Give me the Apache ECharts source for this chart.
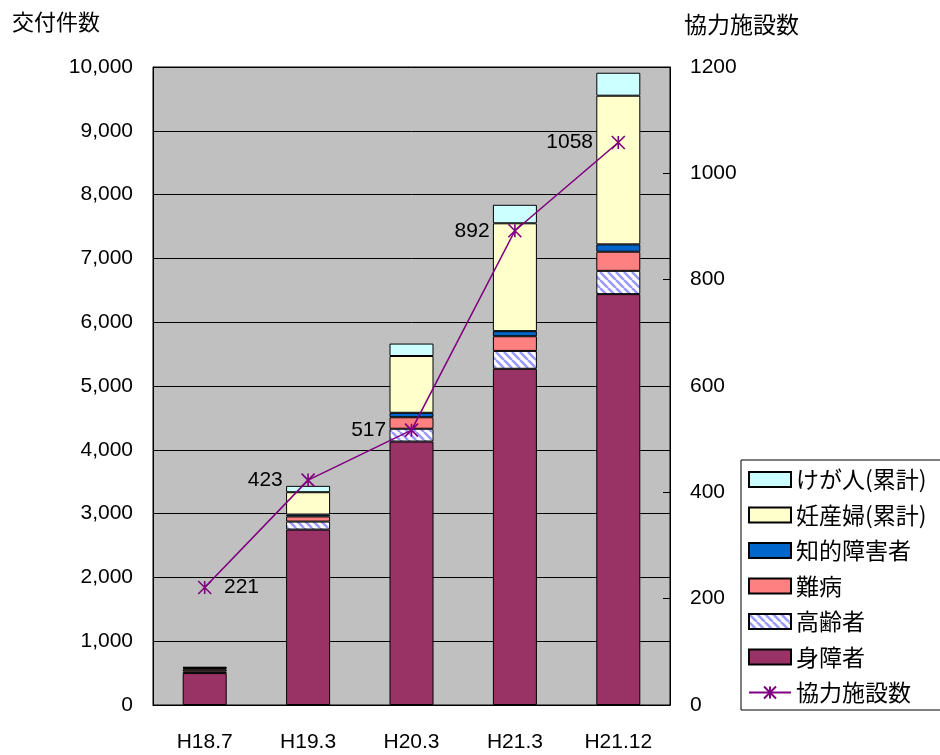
<!DOCTYPE html>
<html><head><meta charset="utf-8">
<script src="https://cdn.jsdelivr.net/npm/echarts@6/dist/echarts.min.js"></script>
<style>html,body{margin:0;padding:0;background:#fff}#c{width:940px;height:755px}</style>
</head><body><div id="c"></div>
<script>
const categories = ['H18.7','H19.3','H20.3','H21.3','H21.12'];
const shinsho   = [500, 2750, 4130, 5270, 6440];   // 身障者
const koreisha  = [25, 125, 200, 280, 365];        // 高齢者
const nanbyo    = [30, 80, 180, 230, 300];         // 難病
const chiteki   = [20, 30, 70, 80, 115];           // 知的障害者
const ninsanpu  = [10, 350, 890, 1690, 2330];      // 妊産婦(累計)
const keganin   = [10, 100, 195, 290, 360];        // けが人(累計)
const facilities = [221, 423, 517, 892, 1058];     // 協力施設数
const leftTicks = [0, 10000, 1000];
const rightTicks = [0, 1200, 200];

function hatch(){
  const s = 8, c = document.createElement('canvas');
  c.width = s; c.height = s;
  const g = c.getContext('2d');
  g.fillStyle = '#fff'; g.fillRect(0,0,s,s);
  g.strokeStyle = '#9999FF'; g.lineWidth = 2.6;
  for (const o of [-s, 0, s]) { g.beginPath(); g.moveTo(o, 0); g.lineTo(o + s, s); g.stroke(); }
  return c;
}
const numFont = 'Liberation Sans, Arial, sans-serif';
const jpFont = '"Noto Sans CJK JP", sans-serif';
const fmt = v => String(v).replace(/\B(?=(\d{3})+(?!\d))/g, ',');
const barBase = { type:'bar', stack:'total', barWidth:44, yAxisIndex:0 };
const border = { borderColor:'#000', borderWidth:1 };
const asterisk = 'path://M0,0L10,10M10,0L0,10M5,0L5,10';

const chart = echarts.init(document.getElementById('c'), null, {renderer:'canvas'});
chart.setOption({
  animation:false,
  textStyle:{fontFamily:jpFont},
  grid:{left:153, right:270, top:67, bottom:50, show:true, backgroundColor:'#C0C0C0', borderColor:'#000', borderWidth:1},
  graphic:[
    {type:'text', left:12, top:11, style:{text:'交付件数', font:'22px "Noto Sans CJK JP"', fill:'#000'}},
    {type:'text', left:684, top:13, style:{text:'協力施設数', font:'23px "Noto Sans CJK JP"', fill:'#000'}}
  ],
  legend:{
    orient:'vertical', left:741, top:460, width:199,
    backgroundColor:'#fff', borderColor:'#000', borderWidth:1,
    padding:[8,20,6,7], itemWidth:42, itemHeight:15, itemGap:12.5,
    textStyle:{fontFamily:jpFont, fontSize:23, color:'#000'},
    data:[
      {name:'けが人(累計)', icon:'rect'},
      {name:'妊産婦(累計)', icon:'rect'},
      {name:'知的障害者', icon:'rect'},
      {name:'難病', icon:'rect'},
      {name:'高齢者', icon:'rect'},
      {name:'身障者', icon:'rect'},
      {name:'協力施設数'}
    ]
  },
  xAxis:{
    type:'category', data:categories,
    axisLine:{lineStyle:{color:'#000', width:1}},
    axisTick:{inside:true, length:6, alignWithLabel:false, lineStyle:{color:'#000'}},
    axisLabel:{fontFamily:numFont, fontSize:21, color:'#000', margin:27}
  },
  yAxis:[
    {type:'value', min:leftTicks[0], max:leftTicks[1], interval:leftTicks[2],
     axisLine:{show:true, lineStyle:{color:'#000'}}, axisTick:{show:false},
     splitLine:{show:true, lineStyle:{color:'#000', width:1}},
     axisLabel:{fontFamily:numFont, fontSize:21, color:'#000', margin:20, formatter:fmt}},
    {type:'value', min:rightTicks[0], max:rightTicks[1], interval:rightTicks[2], position:'right',
     axisLine:{show:true, lineStyle:{color:'#000'}},
     axisTick:{show:true, inside:true, length:7, lineStyle:{color:'#000'}},
     splitLine:{show:false},
     axisLabel:{fontFamily:numFont, fontSize:21, color:'#000', margin:20, formatter:v=>String(v)}}
  ],
  series:[
    Object.assign({}, barBase, {name:'身障者', data:shinsho, itemStyle:Object.assign({color:'#993366'}, border)}),
    Object.assign({}, barBase, {name:'高齢者', data:koreisha, itemStyle:Object.assign({color:{image:hatch(), repeat:'repeat'}}, border)}),
    Object.assign({}, barBase, {name:'難病', data:nanbyo, itemStyle:Object.assign({color:'#FF8080'}, border)}),
    Object.assign({}, barBase, {name:'知的障害者', data:chiteki, itemStyle:Object.assign({color:'#0066CC'}, border)}),
    Object.assign({}, barBase, {name:'妊産婦(累計)', data:ninsanpu, itemStyle:Object.assign({color:'#FFFFCC'}, border)}),
    Object.assign({}, barBase, {name:'けが人(累計)', data:keganin, itemStyle:Object.assign({color:'#CCFFFF'}, border)}),
    {name:'協力施設数', type:'line', yAxisIndex:1, z:10,
     data:facilities.map((v,i)=>({value:v, label:{position:i===0?'right':'left', distance:i===0?12:18}})),
     symbol:asterisk, symbolSize:13,
     lineStyle:{color:'#800080', width:1.6},
     itemStyle:{color:'#800080', borderColor:'#800080', borderWidth:1.6},
     label:{show:true, fontFamily:numFont, fontSize:21, color:'#000'}}
  ]
});
</script></body></html>
